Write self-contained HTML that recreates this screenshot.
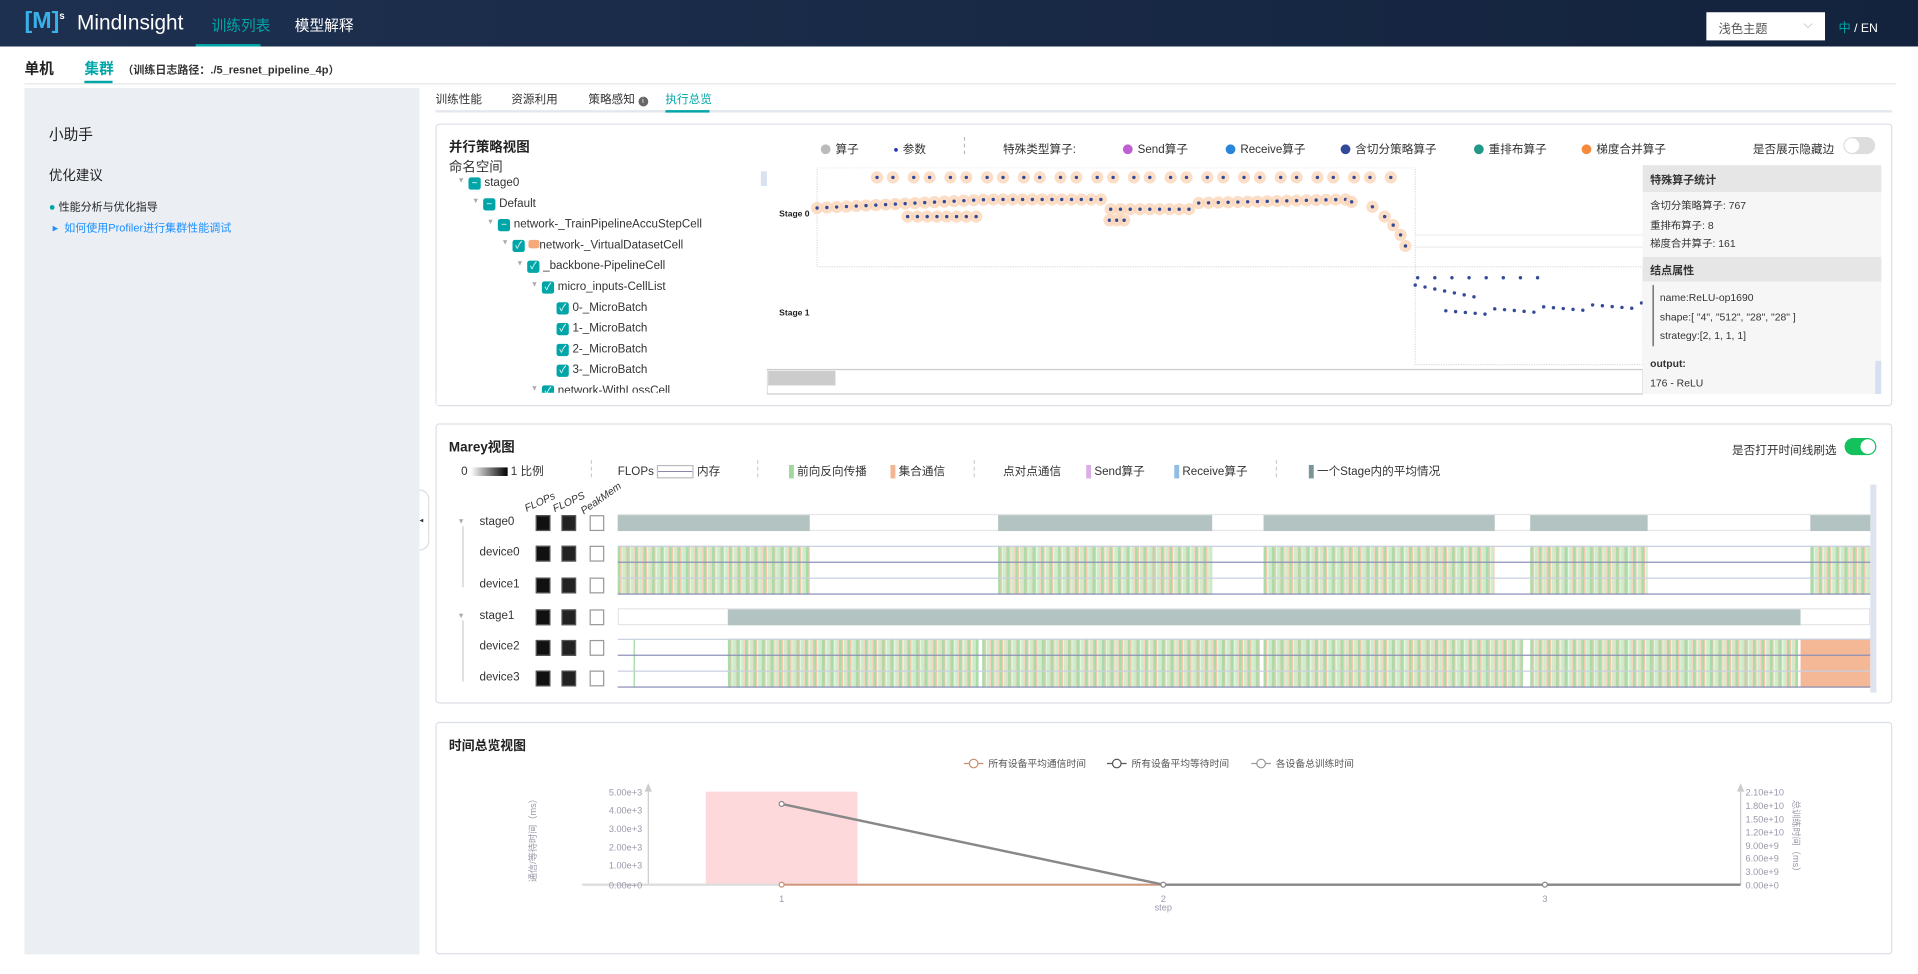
<!DOCTYPE html>
<html><head><meta charset="utf-8">
<style>
*{margin:0;padding:0;box-sizing:border-box}
html,body{width:1918px;height:974px;overflow:hidden;background:#fff}
body{font-family:"Liberation Sans","Noto Sans CJK SC",sans-serif;color:#333}
#w{position:absolute;left:0;top:0;width:1568px;height:796px;transform:scale(1.2232,1.2236);transform-origin:0 0}
.a{position:absolute;white-space:nowrap}
.hdr{left:0;top:0;width:1568px;height:38px;background:linear-gradient(90deg,#1e3050,#13233d)}
.card{position:absolute;border:1px solid #dcdfe6;border-radius:3px;background:#fff}
.cb{position:absolute;width:10px;height:10px;background:#00a5a7;border-radius:2px;color:#fff;font-size:8px;line-height:10px;text-align:center}
.t{font-size:9.5px;color:#333}
.dot{display:inline-block;width:8px;height:8px;border-radius:50%;vertical-align:middle;margin-right:4px}
.lg{font-size:9.5px;color:#333}
.sq{position:absolute;width:12px;height:13px;background:#111;border:1px solid #555}
.sqw{position:absolute;width:12px;height:13px;background:#fff;border:1px solid #999}
.stripe{position:absolute;height:40px;background:repeating-linear-gradient(90deg,#a8dca8 0 2px,#f3c9ae 2px 3px,#e6f4e2 3px 4px,#cfeccb 4px 6px,#f6d5c0 6px 7px)}
.gb{position:absolute;height:13px;background:#b3c3c2}
</style></head><body><div id="w">
<div class="a hdr"></div>
<div class="a" style="left:20px;top:7px;font-size:19px;color:#3ab0e8;font-weight:bold">[M]<sup style="font-size:8px;color:#fff">s</sup></div>
<div class="a" style="left:63px;top:9px;font-size:17px;color:#fff">MindInsight</div>
<div class="a" style="left:173px;top:12px;font-size:12px;color:#00a5a7">训练列表</div>
<div class="a" style="left:160px;top:36px;width:53px;height:2px;background:#00a5a7"></div>
<div class="a" style="left:241px;top:12px;font-size:12px;color:#fff">模型解释</div>
<div class="a" style="left:1395px;top:10px;width:97px;height:23px;background:#fff;font-size:10px;color:#555;padding:5px 10px">浅色主题<span style="float:right;color:#aaa">⌵</span></div>
<div class="a" style="left:1503px;top:14px;font-size:10px;color:#fff"><span style="color:#00a5a7">中</span> / EN</div>

<div class="a" style="left:20px;top:47px;font-size:12px;font-weight:bold;color:#222">单机</div>
<div class="a" style="left:69px;top:47px;font-size:12px;font-weight:bold;color:#00a5a7">集群</div>
<div class="a" style="left:100px;top:50px;font-size:9px;font-weight:bold;color:#333">（训练日志路径：./5_resnet_pipeline_4p）</div>
<div class="a" style="left:20px;top:68px;width:1530px;height:1px;background:#e4e6ea"></div>
<div class="a" style="left:69px;top:66px;width:23px;height:2px;background:#00a5a7"></div>

<div class="a" style="left:20px;top:72px;width:323px;height:708px;background:#ebeef3"></div>
<div class="a" style="left:40px;top:101px;font-size:12px;color:#222">小助手</div>
<div class="a" style="left:40px;top:135px;font-size:11px;color:#222">优化建议</div>
<div class="a" style="left:40px;top:162px;font-size:9px;color:#222"><span style="color:#00a5a7">●</span> 性能分析与优化指导</div>
<div class="a" style="left:43px;top:179px;font-size:9px;color:#1a8fff">▸&nbsp; 如何使用Profiler进行集群性能调试</div>

<div class="a" style="left:356px;top:73px;font-size:9.5px">训练性能</div>
<div class="a" style="left:418px;top:73px;font-size:9.5px">资源利用</div>
<div class="a" style="left:481px;top:73px;font-size:9.5px">策略感知 <span style="display:inline-block;width:8px;height:8px;border-radius:50%;background:#666;color:#fff;font-size:6px;line-height:8px;text-align:center">i</span></div>
<div class="a" style="left:544px;top:73px;font-size:9.5px;color:#00a5a7">执行总览</div>
<div class="a" style="left:356px;top:90px;width:1191px;height:2px;background:#e4e7ed"></div>
<div class="a" style="left:544px;top:90px;width:36px;height:2px;background:#00a5a7"></div>

<!-- card 1 -->
<div class="card" style="left:356px;top:101px;width:1191px;height:231px"></div>
<div class="a" style="left:367px;top:112px;font-size:11px;font-weight:bold;color:#222">并行策略视图</div>
<div class="a" style="left:367px;top:128px;font-size:11px;color:#333">命名空间</div>
<div id="tree"></div>
<div class="a" style="left:622px;top:140px;width:5px;height:12px;background:#d9e2f0"></div>
<div class="a lg" style="left:671px;top:114px"><span class="dot" style="background:#bbb"></span>算子</div>
<div class="a lg" style="left:731px;top:114px"><span class="dot" style="background:#2233bb;width:3px;height:3px"></span>参数</div>
<div class="a" style="left:788px;top:112px;height:14px;border-left:1px dashed #bbb"></div>
<div class="a lg" style="left:820px;top:114px">特殊类型算子:</div>
<div class="a lg" style="left:918px;top:114px"><span class="dot" style="background:#bf5fd1"></span>Send算子</div>
<div class="a lg" style="left:1002px;top:114px"><span class="dot" style="background:#2a86d8"></span>Receive算子</div>
<div class="a lg" style="left:1096px;top:114px"><span class="dot" style="background:#334a99"></span>含切分策略算子</div>
<div class="a lg" style="left:1205px;top:114px"><span class="dot" style="background:#229988"></span>重排布算子</div>
<div class="a lg" style="left:1293px;top:114px"><span class="dot" style="background:#f58a3c"></span>梯度合并算子</div>
<div class="a lg" style="left:1433px;top:114px">是否展示隐藏边</div>
<div class="a" style="left:1507px;top:112px;width:26px;height:14px;border-radius:7px;background:#ddd"><div style="position:absolute;left:1px;top:1px;width:12px;height:12px;border-radius:50%;background:#fff"></div></div>
<svg class="a" style="left:627px;top:137px" width="716" height="186" id="g1">
<rect x="41" y="0" width="489" height="81" fill="none" stroke="#ddd" stroke-dasharray="1,1"/>
<rect x="530" y="81" width="186" height="80" fill="none" stroke="#ddd" stroke-dasharray="1,1"/>
<line x1="530" y1="55" x2="716" y2="55" stroke="#eee"/><line x1="530" y1="65" x2="716" y2="65" stroke="#eee"/>
<text x="10" y="40" font-size="7" font-weight="bold" fill="#222">Stage 0</text>
<text x="10" y="121" font-size="7" font-weight="bold" fill="#222">Stage 1</text>
<rect x="0" y="165" width="716" height="20" fill="#fff" stroke="#ccc"/>
<rect x="1" y="166" width="55" height="12" fill="#ccc"/>
</svg>
<div class="a" style="left:1343px;top:135px;width:195px;height:187px;background:#f6f6f6"></div>
<div class="a" style="left:1343px;top:135px;width:195px;height:22px;background:#e6e6e6;font-size:9px;font-weight:bold;padding:5px 6px">特殊算子统计</div>
<div class="a" style="left:1349px;top:161px;font-size:8.5px;line-height:15.5px">含切分策略算子: 767<br>重排布算子: 8<br>梯度合并算子: 161</div>
<div class="a" style="left:1343px;top:210px;width:195px;height:20px;background:#e6e6e6;font-size:9px;font-weight:bold;padding:4px 6px">结点属性</div>
<div class="a" style="left:1351px;top:233px;width:1px;height:50px;background:#555"></div>
<div class="a" style="left:1357px;top:236px;font-size:8.5px;line-height:15.5px">name:ReLU-op1690<br>shape:[ "4", "512", "28", "28" ]<br>strategy:[2, 1, 1, 1]</div>
<div class="a" style="left:1349px;top:289px;font-size:8.5px;line-height:16px"><b>output:</b><br>176 - ReLU</div>
<div class="a" style="left:1533px;top:295px;width:5px;height:27px;background:#d6e0f0"></div>

<!-- card 2 -->
<div class="card" style="left:356px;top:346px;width:1191px;height:229px"></div>
<div class="a" style="left:367px;top:357px;font-size:11px;font-weight:bold;color:#222">Marey视图</div>
<div class="a lg" style="left:1416px;top:360px">是否打开时间线刷选</div>
<div class="a" style="left:1508px;top:358px;width:26px;height:14px;border-radius:7px;background:#13c15d"><div style="position:absolute;right:1px;top:1px;width:12px;height:12px;border-radius:50%;background:#fff"></div></div>
<div class="a lg" style="left:377px;top:377px">0 <span style="display:inline-block;width:30px;height:7px;background:linear-gradient(90deg,#fff,#000);vertical-align:middle"></span> 1 比例</div>
<div class="a" style="left:483px;top:376px;height:14px;border-left:1px dashed #ccc"></div>
<div class="a lg" style="left:505px;top:377px">FLOPs <span style="display:inline-block;width:30px;height:11px;border:1px solid #bbb;vertical-align:middle;background:linear-gradient(#fff 45%,#88a 45%,#88a 55%,#fff 55%)"></span> 内存</div>
<div class="a" style="left:619px;top:376px;height:14px;border-left:1px dashed #ccc"></div>
<div class="a lg" style="left:645px;top:377px"><span style="display:inline-block;width:4px;height:11px;background:#9fd79f;vertical-align:middle"></span> 前向反向传播</div>
<div class="a lg" style="left:728px;top:377px"><span style="display:inline-block;width:4px;height:11px;background:#f3b58f;vertical-align:middle"></span> 集合通信</div>
<div class="a" style="left:796px;top:376px;height:14px;border-left:1px dashed #ccc"></div>
<div class="a lg" style="left:820px;top:377px">点对点通信</div>
<div class="a lg" style="left:888px;top:377px"><span style="display:inline-block;width:4px;height:11px;background:#dbaee6;vertical-align:middle"></span> Send算子</div>
<div class="a lg" style="left:960px;top:377px"><span style="display:inline-block;width:4px;height:11px;background:#90bde6;vertical-align:middle"></span> Receive算子</div>
<div class="a" style="left:1043px;top:376px;height:14px;border-left:1px dashed #ccc"></div>
<div class="a lg" style="left:1070px;top:377px"><span style="display:inline-block;width:4px;height:11px;background:#7a9595;vertical-align:middle"></span> 一个Stage内的平均情况</div>
<div class="a" style="left:343px;top:400px;width:8px;height:50px;border:1px solid #ddd;border-left:none;border-radius:0 8px 8px 0;background:#fff;font-size:6px;line-height:50px">◂</div>
<div class="a" style="left:428px;top:405px;transform:rotate(-25deg);font-size:8.5px;font-style:italic">FLOPs</div>
<div class="a" style="left:451px;top:405px;transform:rotate(-25deg);font-size:8.5px;font-style:italic">FLOPS</div>
<div class="a" style="left:472px;top:402px;transform:rotate(-35deg);font-size:8.5px;font-style:italic">PeakMem</div>
<div id="marey"></div>
<div class="a" style="left:1529px;top:396px;width:5px;height:170px;background:#dde4f0"></div>

<!-- card 3 -->
<div class="card" style="left:356px;top:590px;width:1191px;height:190px"></div>
<div class="a" style="left:367px;top:602px;font-size:10.5px;font-weight:bold;color:#222">时间总览视图</div>
<svg class="a" style="left:356px;top:590px" width="1191" height="190">
<g font-size="8" fill="#555">
<line x1="432" y1="34" x2="448" y2="34" stroke="#c9906e"/><circle cx="440" cy="34" r="3.5" fill="#fff" stroke="#c9906e"/><text x="452" y="37">所有设备平均通信时间</text>
<line x1="549" y1="34" x2="565" y2="34" stroke="#555"/><circle cx="557" cy="34" r="3.5" fill="#fff" stroke="#555"/><text x="569" y="37">所有设备平均等待时间</text>
<line x1="667" y1="34" x2="683" y2="34" stroke="#999"/><circle cx="675" cy="34" r="3.5" fill="#fff" stroke="#999"/><text x="687" y="37">各设备总训练时间</text>
</g>
<rect x="221" y="57" width="124" height="76" fill="#fdd9dc"/>
<line x1="174" y1="133" x2="174" y2="52" stroke="#ccc"/><path d="M171,57 L174,50 L177,57Z" fill="#ccc"/>
<line x1="1067" y1="133" x2="1067" y2="52" stroke="#ccc"/><path d="M1064,57 L1067,50 L1070,57Z" fill="#ccc"/>
<line x1="120" y1="133" x2="1067" y2="133" stroke="#ddd" stroke-width="2"/>
<g font-size="7.5" fill="#99a" text-anchor="end">
<text x="169" y="60">5.00e+3</text><text x="169" y="75">4.00e+3</text><text x="169" y="90">3.00e+3</text><text x="169" y="105">2.00e+3</text><text x="169" y="120">1.00e+3</text><text x="169" y="136">0.00e+0</text>
</g>
<g font-size="7.5" fill="#99a">
<text x="1071" y="60">2.10e+10</text><text x="1071" y="71">1.80e+10</text><text x="1071" y="82">1.50e+10</text><text x="1071" y="93">1.20e+10</text><text x="1071" y="104">9.00e+9</text><text x="1071" y="114">6.00e+9</text><text x="1071" y="125">3.00e+9</text><text x="1071" y="136">0.00e+0</text>
<text x="283" y="147" text-anchor="middle">1</text><text x="595" y="147" text-anchor="middle">2</text><text x="907" y="147" text-anchor="middle">3</text><text x="595" y="154" text-anchor="middle">step</text>
</g>
<text transform="translate(82,95) rotate(-90)" font-size="7.5" fill="#99a" text-anchor="middle">通信/等待时间（ms）</text>
<text transform="translate(1110,95) rotate(90)" font-size="7.5" fill="#99a" text-anchor="middle">总训练时间（ms）</text>
<line x1="283" y1="133" x2="595" y2="133" stroke="#d4967a" stroke-width="1.5"/>
<polyline points="283,67 595,133 907,133 1067,133" fill="none" stroke="#888" stroke-width="2"/>
<circle cx="283" cy="67" r="2" fill="#fff" stroke="#888"/><circle cx="595" cy="133" r="2" fill="#fff" stroke="#888"/><circle cx="907" cy="133" r="2" fill="#fff" stroke="#888"/><circle cx="283" cy="133" r="2" fill="#fff" stroke="#c9906e"/>
</svg>
</div>
<script>
var tr=[[0,'stage0','-'],[1,'Default','-'],[2,'network-_TrainPipelineAccuStepCell','-'],[3,'network-_VirtualDatasetCell','v'],[4,'_backbone-PipelineCell','v'],[5,'micro_inputs-CellList','v'],[6,'0-_MicroBatch','v',1],[6,'1-_MicroBatch','v',1],[6,'2-_MicroBatch','v',1],[6,'3-_MicroBatch','v',1],[5,'network-WithLossCell','v']];
var h='';tr.forEach(function(r,i){var y=144+i*17,x=374+r[0]*12;
if(!r[3])h+='<div class="a" style="left:'+x+'px;top:'+(y+1)+'px;font-size:6px;color:#aaa">▼</div>';
h+='<div class="cb" style="left:'+(x+9)+'px;top:'+(y+1)+'px">'+(r[2]=='-'?'−':'✓')+'</div>';
h+='<div class="a t" style="left:'+(x+22)+'px;top:'+y+'px">'+(i==3?'<span style="display:inline-block;width:9px;height:7px;background:#f6a97a;border-radius:2px"></span>':'')+r[1]+'</div>';});
document.getElementById('tree').innerHTML=h;
var w=document.getElementById('w');w.insertAdjacentHTML('beforeend','<div class="a" style="left:357px;top:321px;width:265px;height:10px;background:#fff"></div>');
var s='',g=document.getElementById('g1');
function d(x,y,glow){if(glow)s+='<circle cx="'+x+'" cy="'+y+'" r="5" fill="#fbd5b8" opacity="0.8"/>';s+='<circle cx="'+x+'" cy="'+y+'" r="1.4" fill="#334a99"/>';}
for(var x=90;x<520;x+=(x%3?17:13)){d(x,8,1);}
var pts=[];for(var x=41;x<475;x+=8){var y=33-Math.min(7,(x-41)/20)+ (x>280&&x<350?8:0)+ (x>350&&x<470?3-((x-350)/40):0);pts.push([x,y]);}
pts.forEach(function(p){d(p[0],p[1],1)});
for(var x=115;x<175;x+=8)d(x,40,1);
for(var x=280;x<295;x+=6)d(x,43,1);
[[478,28],[495,32],[505,40],[512,47],[518,55],[522,64]].forEach(function(p){d(p[0],p[1],1)});
for(var x=532;x<640;x+=14)d(x,90,0);
for(var x=530;x<585;x+=8)d(x,96+(x-530)/5,0);
for(var x=555;x<716;x+=8)d(x,117-(x-555)/25+((x*7)%5),0);
g.insertAdjacentHTML('beforeend',s);
var m='';var rows=[['stage0',427,1,0],['device0',452,0,0],['device1',478,0,0],['stage1',504,1,1],['device2',529,0,1],['device3',554,0,1]];
rows.forEach(function(r){var y=r[1];
m+='<div class="a t" style="left:392px;top:'+(y-6)+'px;font-size:9.5px">'+r[0]+'</div>';
if(r[2])m+='<div class="a" style="left:374px;top:'+(y-3)+'px;font-size:6px;color:#aaa">▼</div>';
m+='<div class="sq" style="left:438px;top:'+(y-6)+'px"></div><div class="sq" style="left:459px;top:'+(y-6)+'px;background:#222"></div><div class="sqw" style="left:482px;top:'+(y-6)+'px"></div>';});
m+='<div class="a" style="left:378px;top:430px;width:1px;height:50px;background:#ccc"></div><div class="a" style="left:378px;top:507px;width:1px;height:50px;background:#ccc"></div>';
m+='<div class="a" style="left:505px;top:420px;width:1024px;height:14px;border:1px solid #e6e6e6"></div>';
[[505,662],[816,991],[1033,1222],[1251,1347],[1480,1529]].forEach(function(a){m+='<div class="gb" style="left:'+a[0]+'px;top:421px;width:'+(a[1]-a[0])+'px"></div>';
m+='<div class="stripe" style="left:'+a[0]+'px;top:446px;width:'+(a[1]-a[0])+'px"></div>';});
m+='<div class="a" style="left:505px;top:497px;width:1024px;height:14px;border:1px solid #e6e6e6"></div>';
m+='<div class="gb" style="left:595px;top:498px;width:877px"></div>';
[[595,800],[803,1030],[1033,1245],[1251,1470]].forEach(function(a){m+='<div class="stripe" style="left:'+a[0]+'px;top:522px;width:'+(a[1]-a[0])+'px"></div>';});
m+='<div class="a" style="left:1472px;top:522px;width:57px;height:40px;background:#f4b896"></div>';
m+='<div class="a" style="left:518px;top:522px;width:1px;height:40px;background:#9fd79f"></div>';
[446,459,472,485,522,535,548,561].forEach(function(y,i){m+='<div class="a" style="left:505px;top:'+y+'px;width:1024px;height:1px;background:'+(i%2?'#8a8fb8':'#c8cfe0')+'"></div>';});
w.insertAdjacentHTML('beforeend',m);
</script>
</body></html>
